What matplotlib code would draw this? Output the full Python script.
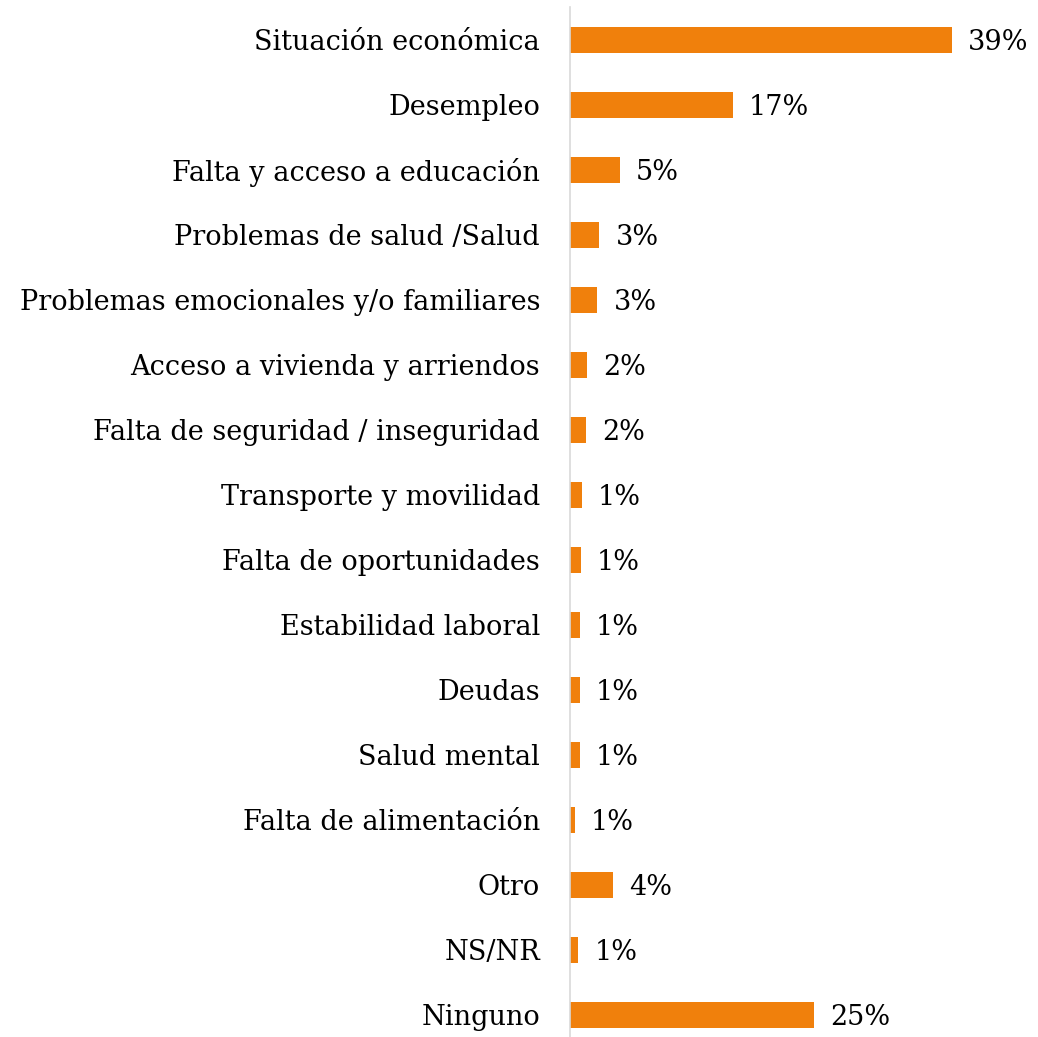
import matplotlib
matplotlib.use("Agg")
import matplotlib.pyplot as plt

categories = [
    "Situación económica",
    "Desempleo",
    "Falta y acceso a educación",
    "Problemas de salud /Salud",
    "Problemas emocionales y/o familiares",
    "Acceso a vivienda y arriendos",
    "Falta de seguridad / inseguridad",
    "Transporte y movilidad",
    "Falta de oportunidades",
    "Estabilidad laboral",
    "Deudas",
    "Salud mental",
    "Falta de alimentación",
    "Otro",
    "NS/NR",
    "Ninguno",
]
values = [39.0, 16.6, 5.1, 3.0, 2.8, 1.7, 1.6, 1.2, 1.1, 1.0, 1.0, 1.0, 0.5, 4.4, 0.85, 24.9]
labels = ["39%", "17%", "5%", "3%", "3%", "2%", "2%", "1%", "1%", "1%", "1%", "1%", "1%", "4%", "1%", "25%"]

W, H = 1038, 1037
fig = plt.figure(figsize=(W / 100, H / 100), dpi=100)
left_px, top_px, bottom_px = 570, 7, 1037
ax = fig.add_axes([left_px / W, 0, 1 - left_px / W, (H - top_px) / H])

font = "DejaVu Serif"
fs = 19.5
y = list(range(len(categories)))
ax.barh(y, values, height=0.4, color="#F0800C")
ax.set_ylim(15.34, -0.503)
ax.set_xlim(0, (W - left_px) / 9.79)

for yi, v, lab in zip(y, values, labels):
    ax.text(v + 1.65, yi, lab, va="center_baseline", ha="left", fontsize=fs,
            family=font, color="black")

ax.set_yticks(y)
ax.set_yticklabels(categories, fontsize=fs, family=font)
ax.tick_params(axis="y", length=0, pad=21.6)
ax.set_xticks([])
for s in ["top", "right", "bottom"]:
    ax.spines[s].set_visible(False)
ax.spines["left"].set_color("#D9D9D9")
ax.spines["left"].set_linewidth(1.2)

fig.savefig("out.png", dpi=100)
